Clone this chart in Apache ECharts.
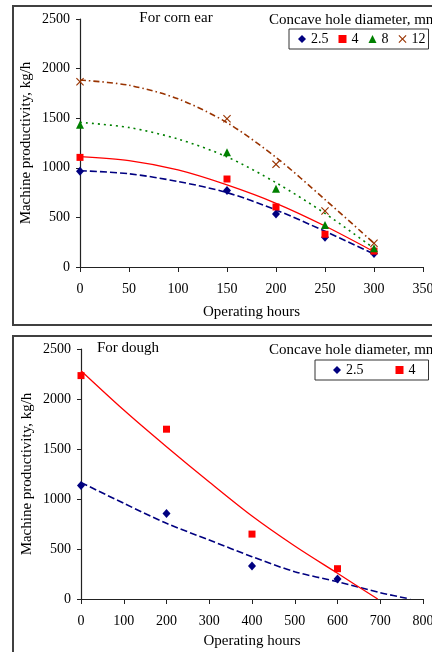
<!DOCTYPE html>
<html>
<head>
<meta charset="utf-8">
<title>Machine productivity vs operating hours</title>
<script src="https://cdn.jsdelivr.net/npm/echarts@6/dist/echarts.min.js"></script>
<style>
  body { margin: 0; background: #fff; }
  .panel { width: 432px; }
  #cornChart { height: 330px; }
  #doughChart { height: 322px; }
</style>
</head>
<body>
<div id="cornChart" class="panel"></div>
<div id="doughChart" class="panel"></div>
<script>
// ---- For corn ear: measured points ----
const CORN_HOURS = [0, 150, 200, 250, 300]
const CORN_25 = [965, 770, 535, 300, 135]
const CORN_4 = [1105, 887, 605, 330, 160]
const CORN_8 = [1435, 1156, 790, 423, 188]
const CORN_12 = [1868, 1495, 1035, 565, 239]

// ---- For corn ear: trend lines ----
const CORN_FIT_HOURS = [0, 50, 100, 150, 200, 250, 300]
const CORN_FIT_25 = [971, 940, 862, 750, 575, 360, 131]
const CORN_FIT_4 = [1112, 1072, 978, 827, 642, 413, 154]
const CORN_FIT_8 = [1458, 1406, 1290, 1110, 850, 540, 188]
const CORN_FIT_12 = [1885, 1832, 1695, 1455, 1105, 680, 239]

// ---- For dough: measured points ----
const DOUGH_HOURS = [0, 200, 400, 600]
const DOUGH_25 = [1135, 856, 330, 200]
const DOUGH_4 = [2234, 1698, 649, 303]

// ---- For dough: trend lines ----
const DOUGH_FIT_HOURS_25 = [0, 100, 200, 300, 400, 500, 600, 700, 770]
const DOUGH_FIT_25 = [1165, 957, 757, 590, 423, 273, 173, 63, 0]
const DOUGH_FIT_HOURS_4 = [0, 100, 200, 300, 400, 500, 600, 694]
const DOUGH_FIT_4 = [2283, 1890, 1523, 1170, 830, 530, 257, 0]

// ---- axis ticks ----
const Y_TICKS = [0, 500, 1000, 1500, 2000, 2500]
const CORN_X_TICKS = [0, 50, 100, 150, 200, 250, 300, 350]
const DOUGH_X_TICKS = [0, 100, 200, 300, 400, 500, 600, 700, 800]

const FONT = 'Liberation Serif'
const AXIS_COLOR = '#222'
const X_MARK = 'path://M1,0L5,4L9,0L10,1L6,5L10,9L9,10L5,6L1,10L0,9L4,5L0,1Z'

// 每个系列的样式：散点 + 趋势线
const STYLES = {
  '2.5': { color: '#000080', symbol: 'diamond', size: [8, 9], line: [7, 3] },
  '4':   { color: '#FF0000', symbol: 'rect', size: 7, line: 'solid' },
  '8':   { color: '#008000', symbol: 'triangle', size: 8, line: [2, 4] },
  '12':  { color: '#993300', symbol: X_MARK, size: 8, line: [6, 3, 1.5, 3] }
}

function zip(xs, ys) {
  return xs.map((x, i) => [x, ys[i]])
}

function axisFrom(ticks) {
  return { min: ticks[0], max: ticks[ticks.length - 1], interval: ticks[1] - ticks[0] }
}

function lineSeries(name, xs, ys) {
  const s = STYLES[name]
  return {
    name: name + ' fit',
    type: 'line',
    smooth: 0.3,
    showSymbol: false,
    silent: true,
    z: 2,
    data: zip(xs, ys),
    lineStyle: { color: s.color, width: name === '4' ? 1.3 : 1.6, type: s.line }
  }
}

function pointSeries(name, xs, ys) {
  const s = STYLES[name]
  return {
    name,
    type: 'scatter',
    symbol: s.symbol,
    symbolSize: s.size,
    z: 3,
    data: zip(xs, ys),
    itemStyle: { color: s.color, opacity: 1 }
  }
}

function buildOption(cfg) {
  const text = (t, x, y, align) => ({
    type: 'text', x, y, z: 10,
    style: { text: t, fontFamily: FONT, fontSize: 15, fill: '#000', align, verticalAlign: 'middle' }
  })
  return {
    animation: false,
    textStyle: { fontFamily: FONT },
    grid: Object.assign({ outerBoundsMode: 'none', containLabel: false }, cfg.grid),
    graphic: [
      {
        type: 'rect', z: 0,
        shape: { x: 13, y: cfg.frameTop, width: 460, height: cfg.frameHeight },
        style: { fill: 'none', stroke: '#404040', lineWidth: 2 }
      },
      text(cfg.title, cfg.titleX, cfg.titleY, cfg.titleAlign),
      text('Concave hole diameter, mm', 269, cfg.titleY + 2, 'left')
    ],
    legend: Object.assign({
      orient: 'horizontal',
      data: cfg.legendNames,
      itemWidth: 8,
      itemHeight: 8,
      borderColor: '#333',
      borderWidth: 1,
      borderRadius: 0,
      backgroundColor: '#fff',
      selectedMode: false,
      textStyle: { fontFamily: FONT, fontSize: 14, color: '#000' }
    }, cfg.legend),
    xAxis: Object.assign({
      type: 'value',
      name: 'Operating hours',
      nameLocation: 'middle',
      nameGap: cfg.xNameGap,
      nameMoveOverlap: false,
      nameTextStyle: { fontFamily: FONT, fontSize: 15, color: '#000' },
      axisLine: { lineStyle: { color: AXIS_COLOR, width: 1.2 } },
      axisTick: { show: true, length: 5, lineStyle: { color: AXIS_COLOR } },
      axisLabel: { fontFamily: FONT, fontSize: 14, color: '#000', margin: 15, formatter: v => String(v) },
      splitLine: { show: false }
    }, axisFrom(cfg.xTicks)),
    yAxis: Object.assign({
      type: 'value',
      name: 'Machine productivity, kg/h',
      nameLocation: 'middle',
      nameGap: 46,
      nameMoveOverlap: false,
      nameTextStyle: { fontFamily: FONT, fontSize: 15, color: '#000' },
      axisLine: { show: true, lineStyle: { color: AXIS_COLOR, width: 1.2 } },
      axisTick: { show: true, length: 4, lineStyle: { color: AXIS_COLOR } },
      axisLabel: { fontFamily: FONT, fontSize: 14, color: '#000', margin: 10, formatter: v => String(v) },
      splitLine: { show: false }
    }, axisFrom(Y_TICKS)),
    series: cfg.series
  }
}

const cornOption = buildOption({
  grid: { left: 80, top: 19, width: 343, height: 248 },
  frameTop: 6, frameHeight: 319,
  title: 'For corn ear', titleX: 176, titleY: 18, titleAlign: 'center',
  legendNames: ['2.5', '4', '8', '12'],
  legend: { left: 289, top: 29, width: 150, itemGap: 10, padding: [3, 3, 3, 9] },
  xTicks: CORN_X_TICKS, xNameGap: 38,
  series: [
    lineSeries('2.5', CORN_FIT_HOURS, CORN_FIT_25),
    lineSeries('4', CORN_FIT_HOURS, CORN_FIT_4),
    lineSeries('8', CORN_FIT_HOURS, CORN_FIT_8),
    lineSeries('12', CORN_FIT_HOURS, CORN_FIT_12),
    pointSeries('2.5', CORN_HOURS, CORN_25),
    pointSeries('4', CORN_HOURS, CORN_4),
    pointSeries('8', CORN_HOURS, CORN_8),
    pointSeries('12', CORN_HOURS, CORN_12)
  ]
})

const doughOption = buildOption({
  grid: { left: 81, top: 19, width: 342, height: 250 },
  frameTop: 6, frameHeight: 400,
  title: 'For dough', titleX: 97, titleY: 18, titleAlign: 'left',
  legendNames: ['2.5', '4'],
  legend: { left: 315, top: 30, itemGap: 32, padding: [3, 13, 3, 18] },
  xTicks: DOUGH_X_TICKS, xNameGap: 35,
  series: [
    lineSeries('2.5', DOUGH_FIT_HOURS_25, DOUGH_FIT_25),
    lineSeries('4', DOUGH_FIT_HOURS_4, DOUGH_FIT_4),
    pointSeries('2.5', DOUGH_HOURS, DOUGH_25),
    pointSeries('4', DOUGH_HOURS, DOUGH_4)
  ]
})

const cornChart = echarts.init(document.getElementById('cornChart'))
cornChart.setOption(cornOption)
const doughChart = echarts.init(document.getElementById('doughChart'))
doughChart.setOption(doughOption)

window.addEventListener('resize', () => {
  cornChart.resize()
  doughChart.resize()
})
</script>
</body>
</html>
